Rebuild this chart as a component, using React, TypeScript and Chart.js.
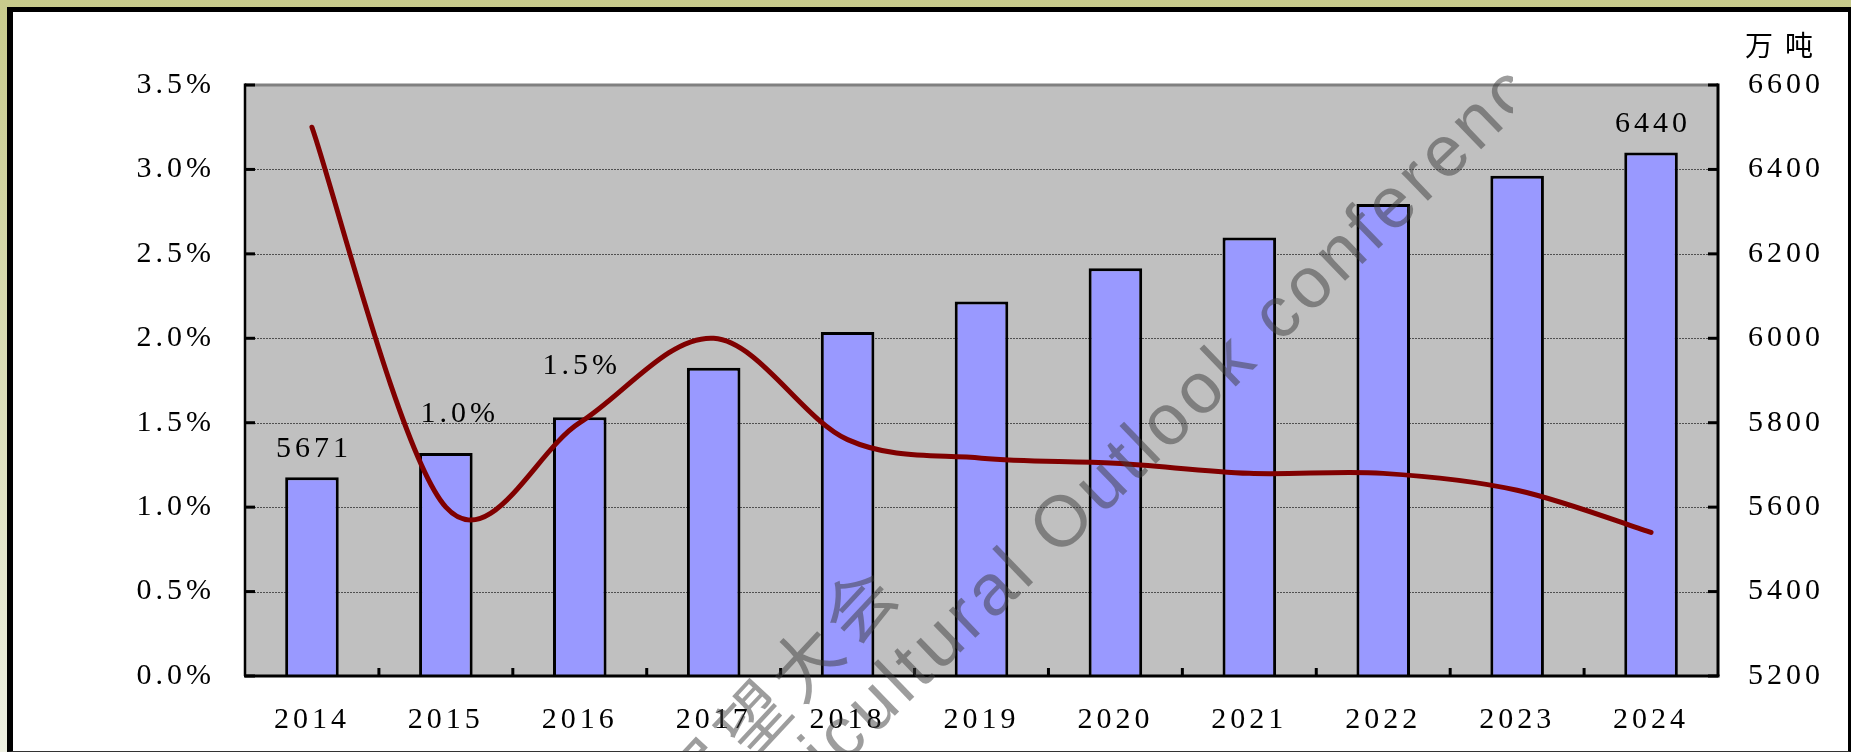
import React, { useEffect, useRef } from 'react';
import { Chart, registerables } from 'chart.js';

Chart.register(...registerables);

// ---- data ----
const years = ['2014', '2015', '2016', '2017', '2018', '2019', '2020', '2021', '2022', '2023', '2024'];
const output = [5671, 5728, 5813, 5930, 6015, 6087, 6166, 6239, 6318, 6385, 6440];
const growth = [3.25, 1.0, 1.5, 2.0, 1.4, 1.29, 1.26, 1.2, 1.2, 1.1, 0.85];
const pctMin = 0;
const pctMax = 3.5;
const pctStep = 0.5;
const tonMin = 5200;
const tonMax = 6600;
const tonStep = 200;
const unitLabel = '万吨';
const watermarkEn = 'Agricultural Outlook conference';
const watermarkEnPrefix = 'Agricultural ';
const watermarkZh = '农业展望大会';

const W = 1851;
const H = 752;
const tickFont = { family: "'Liberation Serif', 'Times New Roman', serif", size: 30 };
const LS = '4px';

// dataset 0 = growth line, dataset 1 = output bars; labels anchored on bar tops
const valueLabels = [
  { ds: 1, i: 0, dx: 0, dy: -28 },
  { ds: 0, i: 1, dx: 12, dy: -39 },
  { ds: 0, i: 2, dx: 0, dy: -51 },
  { ds: 1, i: 10, dx: 0, dy: -28 },
];

const spacingPlugin = {
  id: 'spacing',
  beforeUpdate(chart: any) { chart.ctx.letterSpacing = LS; },
  beforeDraw(chart: any) { chart.ctx.letterSpacing = LS; },
};

// spreadsheet-style smoothing: bezier handles = (next - prev) / 6
const smoothPlugin = {
  id: 'smooth',
  beforeDatasetsDraw(chart: any) {
    const meta = chart.getDatasetMeta(0);
    const pts = meta.data;
    const n = pts.length;
    for (let i = 0; i < n; i++) {
      const p = pts[i];
      const prev = pts[Math.max(0, i - 1)];
      const next = pts[Math.min(n - 1, i + 1)];
      const dx = (next.x - prev.x) / 6;
      const dy = (next.y - prev.y) / 6;
      p.cp1x = p.x - dx;
      p.cp1y = p.y - dy;
      p.cp2x = p.x + dx;
      p.cp2y = p.y + dy;
    }
    if (meta.dataset) {
      meta.dataset._pointsUpdated = true;
      meta.dataset._path = undefined;
    }
  },
};

const plotPlugin = {
  id: 'plot',
  beforeDatasetsDraw(chart: any) {
    const { ctx, chartArea: a, scales } = chart;
    ctx.save();
    ctx.fillStyle = '#c0c0c0';
    ctx.fillRect(a.left, a.top, a.right - a.left, a.bottom - a.top);
    ctx.strokeStyle = '#505050';
    ctx.lineWidth = 1;
    ctx.setLineDash([2, 1]);
    const ys = scales.y;
    ys.ticks.forEach((t: any, i: number) => {
      if (i === 0 || i === ys.ticks.length - 1) return;
      const y = Math.round(ys.getPixelForValue(t.value)) + 0.5;
      ctx.beginPath();
      ctx.moveTo(a.left, y);
      ctx.lineTo(a.right, y);
      ctx.stroke();
    });
    ctx.restore();
  },
  afterDatasetsDraw(chart: any) {
    const { ctx, chartArea: a, scales } = chart;
    ctx.save();
    ctx.setLineDash([]);
    ctx.strokeStyle = '#808080';
    ctx.lineWidth = 3;
    ctx.beginPath();
    ctx.moveTo(a.left, a.top);
    ctx.lineTo(a.right, a.top);
    ctx.stroke();
    ctx.strokeStyle = '#000';
    ctx.lineWidth = 2.5;
    ctx.beginPath();
    ctx.moveTo(a.left, a.top - 1.5);
    ctx.lineTo(a.left, a.bottom);
    ctx.stroke();
    ctx.lineWidth = 3;
    ctx.beginPath();
    ctx.moveTo(a.right, a.top - 1.5);
    ctx.lineTo(a.right, a.bottom);
    ctx.stroke();
    ctx.beginPath();
    ctx.moveTo(a.left - 1, a.bottom);
    ctx.lineTo(a.right + 1.5, a.bottom);
    ctx.stroke();
    ctx.lineWidth = 3;
    scales.y.ticks.forEach((t: any) => {
      const y = scales.y.getPixelForValue(t.value);
      ctx.beginPath();
      ctx.moveTo(a.left, y);
      ctx.lineTo(a.left + 10, y);
      ctx.stroke();
    });
    scales.y1.ticks.forEach((t: any) => {
      const y = scales.y1.getPixelForValue(t.value);
      ctx.beginPath();
      ctx.moveTo(a.right, y);
      ctx.lineTo(a.right - 10, y);
      ctx.stroke();
    });
    const xs = scales.x;
    const n = years.length;
    for (let i = 1; i < n; i++) {
      const x = (xs.getPixelForValue(i - 1) + xs.getPixelForValue(i)) / 2;
      ctx.beginPath();
      ctx.moveTo(x, a.bottom);
      ctx.lineTo(x, a.bottom - 8);
      ctx.stroke();
    }
    // value labels
    ctx.letterSpacing = LS;
    ctx.font = `${tickFont.size}px ${tickFont.family}`;
    ctx.fillStyle = '#000';
    ctx.textAlign = 'center';
    ctx.textBaseline = 'middle';
    const barMeta = chart.getDatasetMeta(1);
    valueLabels.forEach((l) => {
      const v = chart.data.datasets[l.ds].data[l.i] as number;
      const text = l.ds === 1 ? v.toFixed(0) : v.toFixed(1) + '%';
      const el = barMeta.data[l.i];
      ctx.fillText(text, el.x + l.dx + 2, el.y + l.dy);
    });
    // unit label
    ctx.letterSpacing = '12px';
    ctx.font = "28px 'Noto Sans CJK SC', sans-serif";
    ctx.textAlign = 'left';
    ctx.fillText(unitLabel, scales.y1.left + 27, a.top - 40);
    ctx.restore();
  },
  afterDraw(chart: any) {
    const { ctx } = chart;
    ctx.save();
    ctx.beginPath();
    ctx.rect(13, 12, 1513 - 13, 751 - 12);
    ctx.clip();
    ctx.fillStyle = 'rgba(60,60,60,0.5)';
    // english watermark
    ctx.save();
    ctx.letterSpacing = '5px';
    ctx.font = "72px 'Liberation Sans', Arial, sans-serif";
    const pw = ctx.measureText(watermarkEnPrefix).width;
    ctx.translate(1058, 558);
    ctx.rotate((-44 * Math.PI) / 180);
    ctx.textAlign = 'left';
    ctx.textBaseline = 'alphabetic';
    ctx.fillText(watermarkEn, -pw, 0);
    ctx.restore();
    // chinese watermark
    ctx.save();
    const zs = 70;
    const zls = 8;
    ctx.letterSpacing = `${zls}px`;
    ctx.font = `${zs}px 'Noto Sans CJK SC', sans-serif`;
    const zw = ctx.measureText(watermarkZh).width;
    ctx.translate(858, 605);
    ctx.rotate((-47 * Math.PI) / 180);
    ctx.textAlign = 'left';
    ctx.textBaseline = 'middle';
    ctx.fillText(watermarkZh, -(zw - zls - zs / 2), 0);
    ctx.restore();
    ctx.restore();
  },
};

export default function App() {
  const ref = useRef<HTMLCanvasElement | null>(null);
  useEffect(() => {
    document.body.style.margin = '0';
    const canvas = ref.current!;
    const chart = new Chart(canvas, {
      type: 'bar',
      data: {
        labels: years,
        datasets: [
          {
            type: 'line',
            label: 'growth',
            data: growth,
            yAxisID: 'y',
            borderColor: '#800000',
            borderWidth: 5,
            pointRadius: 0,
            tension: 0.4,
            borderCapStyle: 'round',
            borderJoinStyle: 'round',
            order: 1,
          } as any,
          {
            type: 'bar',
            label: 'output',
            data: output,
            yAxisID: 'y1',
            backgroundColor: '#9999ff',
            borderColor: '#000',
            borderWidth: 3,
            barPercentage: 0.4,
            categoryPercentage: 1,
            order: 2,
          } as any,
        ],
      },
      options: {
        responsive: false,
        animation: false,
        devicePixelRatio: 1,
        layout: { padding: { top: 85, left: 0, right: 0, bottom: 0 } },
        plugins: { legend: { display: false }, tooltip: { enabled: false } },
        scales: {
          x: {
            grid: { display: false, drawTicks: false },
            border: { display: false },
            ticks: { font: tickFont, color: '#000', padding: 26, maxRotation: 0, autoSkip: false },
            afterFit: (s: any) => { s.height = 76; },
          },
          y: {
            position: 'left',
            min: pctMin,
            max: pctMax,
            grid: { display: false, drawTicks: false },
            border: { display: false },
            ticks: {
              stepSize: pctStep,
              font: tickFont,
              color: '#000',
              padding: 30,
              callback: (v: any) => Number(v).toFixed(1) + '%',
            },
            afterFit: (s: any) => { s.width = 245; },
          },
          y1: {
            position: 'right',
            min: tonMin,
            max: tonMax,
            grid: { display: false, drawTicks: false },
            border: { display: false },
            ticks: {
              stepSize: tonStep,
              font: tickFont,
              color: '#000',
              padding: 30,
              callback: (v: any) => String(v),
            },
            afterFit: (s: any) => { s.width = W - 1718; },
          },
        },
      },
      plugins: [spacingPlugin, smoothPlugin, plotPlugin],
    });
    return () => chart.destroy();
  }, []);

  return (
    <div
      style={{
        position: 'fixed',
        left: 0,
        top: 0,
        width: W,
        height: H,
        background: 'linear-gradient(to bottom, #c8cb8c, #eef0e2)',
        overflow: 'hidden',
      }}
    >
      <div
        style={{
          position: 'absolute',
          left: 7,
          top: 7,
          width: W - 7,
          height: H - 7,
          boxSizing: 'border-box',
          background: '#fff',
          borderLeft: '6px solid #000',
          borderTop: '5px solid #000',
          borderRight: '3px solid #000',
          borderBottom: '1px solid #333',
        }}
      />
      <canvas
        ref={ref}
        width={W}
        height={H}
        style={{ position: 'absolute', left: 0, top: 0, width: W, height: H }}
      />
    </div>
  );
}
